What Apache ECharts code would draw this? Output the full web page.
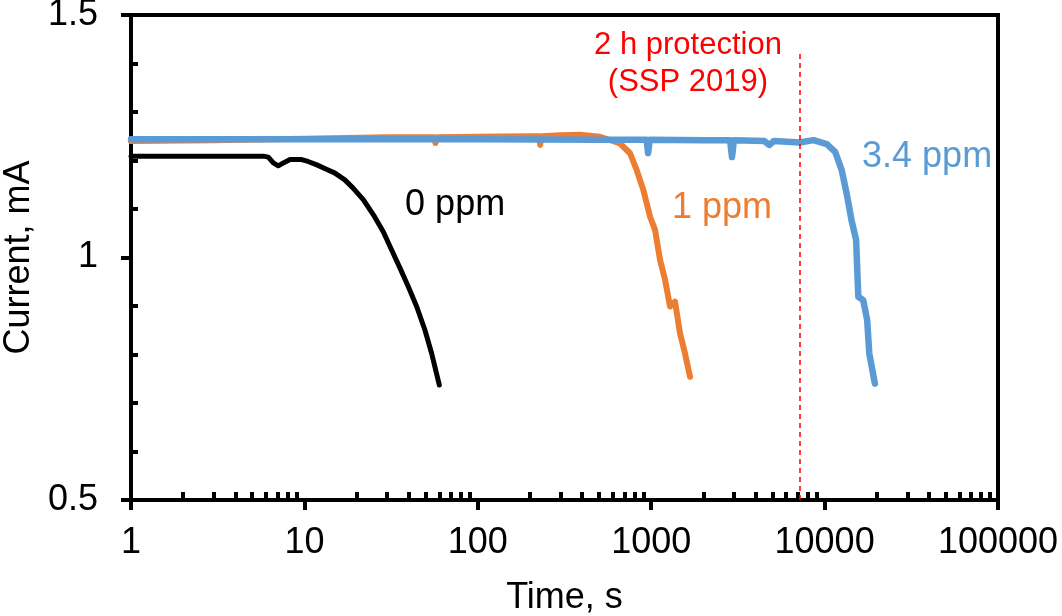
<!DOCTYPE html>
<html>
<head>
<meta charset="utf-8">
<script src="https://cdn.jsdelivr.net/npm/echarts@6/dist/echarts.min.js"></script>
<style>
  html, body { margin: 0; padding: 0; background: #fff; }
  #chart { width: 1062px; height: 616px; }
</style>
</head>
<body>
<div id="chart"></div>
<script>
// time (s) and current (mA)
var seriesNames = ['0 ppm', '1 ppm', '3.4 ppm'];
var seriesColors = ['#000000', '#ED7D31', '#5B9BD5'];

var time0 = [1, 2, 3, 4, 5, 5.8, 6.19, 6.62, 7.07, 7.56, 8.26, 9.64, 10.5, 11.8, 13.4, 15.0, 17.1, 19.1, 21.9, 25.0, 28.5, 31.9, 35.6, 39.7, 44.4, 49.6, 54.2, 60.0];
var curr0 = [1.209, 1.209, 1.209, 1.209, 1.209, 1.209, 1.207, 1.195, 1.189, 1.195, 1.202, 1.202, 1.198, 1.191, 1.182, 1.174, 1.160, 1.143, 1.119, 1.088, 1.053, 1.015, 0.978, 0.940, 0.899, 0.850, 0.802, 0.737];

var time1 = [1, 3, 10, 30, 56, 57, 58, 100, 200, 226, 229, 232, 300, 388, 507, 661, 755, 825, 901, 985, 1052, 1125, 1202, 1284, 1372, 1466, 1567, 1675];
var curr1 = [1.240, 1.242, 1.245, 1.248, 1.248, 1.236, 1.248, 1.249, 1.25, 1.25, 1.232, 1.25, 1.252, 1.253, 1.249, 1.235, 1.215, 1.180, 1.139, 1.084, 1.057, 0.995, 0.954, 0.899, 0.909, 0.844, 0.802, 0.754];

var time2 = [1, 10, 100, 500, 940, 960, 980, 2000, 2850, 2924, 3000, 4500, 4800, 5100, 7210, 8610, 10300, 11500, 12550, 13400, 14300, 15200, 15450, 15650, 16700, 17600, 18100, 18700, 19500];
var curr2 = [1.244, 1.244, 1.244, 1.243, 1.243, 1.215, 1.243, 1.242, 1.242, 1.207, 1.242, 1.24, 1.232, 1.24, 1.237, 1.242, 1.234, 1.218, 1.180, 1.132, 1.077, 1.036, 0.968, 0.919, 0.912, 0.871, 0.802, 0.775, 0.740];

var xMajorTicks = [1, 10, 100, 1000, 10000, 100000];
var xMinorTicks = [];
for (var d = 1; d <= 10000; d *= 10) {
  for (var k = 2; k <= 9; k++) xMinorTicks.push(k * d);
}
var yMinorTicks = [0.6, 0.7, 0.8, 0.9, 1.1, 1.2, 1.3, 1.4];

// label anchors [time, current]
var labelPos = [[74, 1.108], [2560, 1.102], [39000, 1.207]];
var protectionTime = 7200;
var protectionTop = 1.42;
var protectionText = '2 h protection\n(SSP 2019)';
var protectionPos = [1630, 1.40];

function zip(t, c) {
  var out = [];
  for (var i = 0; i < t.length; i++) out.push([t[i], c[i]]);
  return out;
}

var font = 'Liberation Sans, Arial, sans-serif';
var chart = echarts.init(document.getElementById('chart'));

var times = [time0, time1, time2];
var currs = [curr0, curr1, curr2];
var widths = [5, 6, 6.5];

var series = seriesNames.map(function (name, i) {
  return {
    name: name,
    type: 'line',
    xAxisIndex: 0,
    yAxisIndex: 0,
    data: zip(times[i], currs[i]),
    showSymbol: false,
    symbol: 'none',
    z: 2 + i,
    lineStyle: { color: seriesColors[i], width: widths[i], join: 'round', cap: 'round' },
    markPoint: {
      symbol: 'circle',
      symbolSize: 0,
      silent: true,
      data: [{
        coord: labelPos[i],
        label: {
          show: true, position: 'inside', formatter: name,
          color: seriesColors[i], fontSize: 36, fontFamily: font
        }
      }]
    }
  };
});

series[0].markLine = {
  silent: true,
  symbol: 'none',
  animation: false,
  label: { show: false },
  lineStyle: { color: '#ff0000', type: [5, 4], width: 1.5 },
  data: [[{ coord: [protectionTime, 0.5] }, { coord: [protectionTime, protectionTop] }]]
};
series[0].markPoint.data.push({
  coord: protectionPos,
  label: {
    show: true, position: 'inside', formatter: protectionText,
    color: '#ff0000', fontSize: 31, lineHeight: 37, fontFamily: font, align: 'center'
  }
});

var option = {
  animation: false,
  backgroundColor: '#fff',
  grid: {
    left: 131, right: 64, top: 15, bottom: 116,
    containLabel: false, outerBoundsMode: 'none',
    show: true, borderColor: '#000', borderWidth: 4, backgroundColor: 'transparent'
  },
  xAxis: [{
    type: 'log', logBase: 10, min: 1, max: 100000, position: 'bottom',
    name: 'Time, s', nameLocation: 'middle', nameGap: 80,
    nameTextStyle: { color: '#000', fontSize: 36, fontFamily: font },
    axisLine: { onZero: false, lineStyle: { color: '#000', width: 4 } },
    axisTick: { show: true, inside: false, length: 10, lineStyle: { color: '#000', width: 4 }, customValues: xMajorTicks },
    axisLabel: { color: '#000', fontSize: 36, fontFamily: font, margin: 25, customValues: xMajorTicks,
      formatter: function (v) { return String(Math.round(v)); } },
    splitLine: { show: false },
    minorTick: { show: false }
  }, {
    type: 'log', logBase: 10, min: 1, max: 100000, position: 'bottom',
    axisLine: { show: false, onZero: false },
    axisTick: { show: true, inside: true, length: 8, lineStyle: { color: '#000', width: 4 }, customValues: xMinorTicks },
    axisLabel: { show: false },
    splitLine: { show: false }
  }],
  yAxis: [{
    type: 'value', min: 0.5, max: 1.5, interval: 0.5, position: 'left',
    name: 'Current, mA', nameLocation: 'middle', nameGap: 92, nameRotate: 90,
    nameTextStyle: { color: '#000', fontSize: 36, fontFamily: font },
    axisLine: { onZero: false, lineStyle: { color: '#000', width: 4 } },
    axisTick: { show: true, inside: false, length: 10, lineStyle: { color: '#000', width: 4 } },
    axisLabel: { color: '#000', fontSize: 36, fontFamily: font, margin: 33,
      formatter: function (v) { return String(v); } },
    splitLine: { show: false }
  }, {
    type: 'value', min: 0.5, max: 1.5, position: 'left',
    axisLine: { show: false, onZero: false },
    axisTick: { show: true, inside: true, length: 7, lineStyle: { color: '#000', width: 4 }, customValues: yMinorTicks },
    axisLabel: { show: false },
    splitLine: { show: false }
  }],
  series: series
};

chart.setOption(option);
</script>
</body>
</html>
